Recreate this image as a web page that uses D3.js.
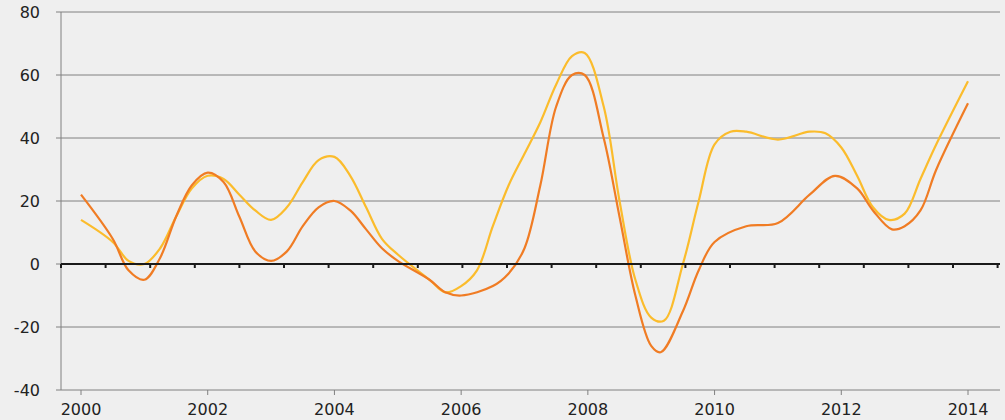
<!DOCTYPE html>
<html><head><meta charset="utf-8">
<script src="https://cdn.jsdelivr.net/npm/d3@7"></script>
<style>body{margin:0;background:#efefef}text{font-family:"DejaVu Sans",sans-serif;font-size:16px;fill:#222}</style>
</head><body><div id="chart"></div>
<script>
var orangeT = [2000,2000.5,2000.75,2001,2001.25,2001.5,2001.75,2002,2002.25,2002.5,2002.75,2003,2003.25,2003.5,2003.75,2004,2004.25,2004.5,2004.75,2005,2005.5,2005.75,2006,2006.5,2006.75,2007,2007.25,2007.5,2007.75,2007.95,2008.25,2008.5,2008.75,2009,2009.15,2009.5,2009.75,2010,2010.5,2011,2011.5,2011.9,2012.25,2012.5,2012.8,2013,2013.25,2013.5,2014];
var orangeV = [22,8,-2,-5,2,15,25,29,26,15,4,1,4,12,18,20,17,11,5,1,-5,-9,-10,-7,-3,5,25,50,60,60,40,15,-10,-26,-28,-15,-2,7,12,13,22,28,24,17,11,12,17,30,51];
var yellowT = [2000,2000.5,2000.75,2001,2001.25,2001.5,2001.75,2002,2002.25,2002.5,2002.75,2003,2003.25,2003.5,2003.75,2004,2004.25,2004.5,2004.75,2005,2005.5,2005.75,2006,2006.25,2006.5,2006.75,2007,2007.25,2007.5,2007.75,2007.95,2008.25,2008.5,2008.75,2009,2009.2,2009.5,2009.75,2010,2010.25,2010.5,2011,2011.5,2011.75,2012,2012.25,2012.5,2012.75,2013,2013.25,2013.5,2014];
var yellowV = [14,7,1,0,5,15,24,28,27,22,17,14,18,26,33,34,28,18,8,3,-5,-9,-7,-2,12,25,35,45,57,66,67,50,20,-5,-17,-18,0,20,38,42,42,39.5,42,41.5,37,28,18,14,16,27,38,58];
var yTicks = [-40,-20,0,20,40,60,80];
var xTicks = [2000,2002,2004,2006,2008,2010,2012,2014];

var W = 1005, H = 420, mLeft = 61, mRight = 1000, mTop = 12, mBottom = 390;
var svg = d3.select("#chart").append("svg").attr("width", W).attr("height", H);
var x = d3.scaleLinear().domain([2000, 2014]).range([81, 968]);
var y = d3.scaleLinear().domain([-40, 80]).range([mBottom, mTop]);

svg.selectAll(".grid").data(yTicks.filter(function(d){return d != 0 && d != -40;})).enter()
  .append("line").attr("x1", mLeft).attr("x2", mRight)
  .attr("y1", function(d){return y(d);}).attr("y2", function(d){return y(d);})
  .attr("stroke", "#808080").attr("stroke-width", 1);

svg.append("line").attr("x1", mLeft).attr("x2", mLeft).attr("y1", mTop).attr("y2", mBottom).attr("stroke", "#808080");
svg.append("line").attr("x1", mLeft).attr("x2", mRight).attr("y1", mBottom).attr("y2", mBottom).attr("stroke", "#808080");

svg.selectAll(".yl").data(yTicks).enter().append("text")
  .attr("x", 40).attr("y", function(d){return y(d) + 6;}).attr("text-anchor", "end").text(function(d){return d;});
svg.selectAll(".yt").data(yTicks).enter().append("line")
  .attr("x1", mLeft - 5).attr("x2", mLeft).attr("y1", function(d){return y(d);}).attr("y2", function(d){return y(d);})
  .attr("stroke", "#808080");

svg.selectAll(".xl").data(xTicks).enter().append("text")
  .attr("x", function(d){return x(d);}).attr("y", 415).attr("text-anchor", "middle").text(function(d){return d;});
svg.selectAll(".xt").data(xTicks).enter().append("line")
  .attr("x1", function(d){return x(d);}).attr("x2", function(d){return x(d);})
  .attr("y1", mBottom).attr("y2", mBottom + 5).attr("stroke", "#808080");

var line = d3.line().x(function(d){return x(d[0]);}).y(function(d){return y(d[1]);}).curve(d3.curveCatmullRom.alpha(0.5));
svg.append("path").datum(d3.zip(yellowT, yellowV)).attr("d", line)
  .attr("fill", "none").attr("stroke", "#fbbc2c").attr("stroke-width", 2.2);
svg.append("path").datum(d3.zip(orangeT, orangeV)).attr("d", line)
  .attr("fill", "none").attr("stroke", "#f07c24").attr("stroke-width", 2.2);

svg.append("line").attr("x1", mLeft).attr("x2", mRight).attr("y1", y(0)).attr("y2", y(0))
  .attr("stroke", "#1a1a1a").attr("stroke-width", 2);
svg.selectAll(".zt").data(d3.range(0, 22)).enter().append("line")
  .attr("x1", function(d){return mLeft + d * 44.6;}).attr("x2", function(d){return mLeft + d * 44.6;})
  .attr("y1", y(0)).attr("y2", y(0) + 4).attr("stroke", "#1a1a1a").attr("stroke-width", 2);
</script></body></html>
